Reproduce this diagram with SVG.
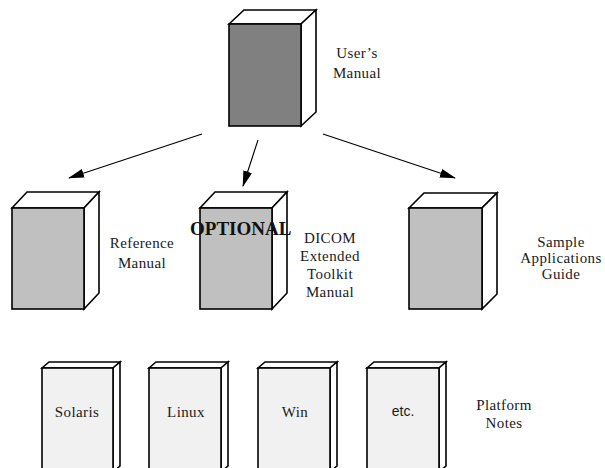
<svg xmlns="http://www.w3.org/2000/svg" width="605" height="468" viewBox="0 0 605 468">
<style>
.f{stroke:#000;stroke-width:1.6;stroke-linejoin:miter}
.side{fill:#fff;stroke:#000;stroke-width:1.6}
.dark{fill:#808080}
.mid{fill:#c0c0c0}
.light{fill:#f1f1f1}
.t{font-family:"Liberation Serif","Times New Roman",serif;font-size:15px;letter-spacing:0.4px;fill:#1a1a1a;text-anchor:middle}
.s{font-family:"Liberation Sans",Arial,sans-serif;font-size:14px;fill:#1a1a1a;text-anchor:middle}
.b{font-family:"Liberation Serif","Times New Roman",serif;font-size:19px;font-weight:bold;fill:#111}
.c{stroke:#000;stroke-width:1.1;fill:none}
</style>
<defs>
<marker id="ah" markerWidth="16" markerHeight="9" refX="15" refY="4.5" orient="auto" markerUnits="userSpaceOnUse">
<path d="M0,0 L16,4.5 L0,9 Z" fill="#000"/>
</marker>
</defs>
<g id="connectors">
<line class="c" x1="202" y1="134" x2="69" y2="178" marker-end="url(#ah)"/>
<line class="c" x1="258" y1="140" x2="243" y2="186" marker-end="url(#ah)"/>
<line class="c" x1="323" y1="134" x2="455" y2="178" marker-end="url(#ah)"/>
</g>
<g id="users-manual">
<polygon class="side" points="229,24 244,10 316,10 301,24"/>
<polygon class="side" points="301,24 316,10 316,112 301,126"/>
<rect class="f dark" x="229" y="24" width="72" height="102"/>
<text class="t" x="357" y="58">User’s</text>
<text class="t" x="357" y="78">Manual</text>
</g>
<g id="reference-manual">
<polygon class="side" points="12,208 27,192 99,192 84,208"/>
<polygon class="side" points="84,208 99,192 99,293 84,309"/>
<rect class="f mid" x="12" y="208" width="72" height="101"/>
<text class="t" x="142" y="248">Reference</text>
<text class="t" x="142" y="268">Manual</text>
</g>
<g id="dicom-manual">
<polygon class="side" points="200,208 215,192 287,192 272,208"/>
<polygon class="side" points="272,208 287,192 287,293 272,309"/>
<rect class="f mid" x="200" y="208" width="72" height="101"/>
<text class="b" x="190" y="235">OPTIONAL</text>
<text class="t" x="330" y="243">DICOM</text>
<text class="t" x="330" y="261">Extended</text>
<text class="t" x="330" y="279">Toolkit</text>
<text class="t" x="330" y="297">Manual</text>
</g>
<g id="sample-guide">
<polygon class="side" points="409,208 424,193 497,193 482,208"/>
<polygon class="side" points="482,208 497,193 497,294 482,309"/>
<rect class="f mid" x="409" y="208" width="73" height="101"/>
<text class="t" x="561" y="247">Sample</text>
<text class="t" x="561" y="263">Applications</text>
<text class="t" x="561" y="279">Guide</text>
</g>
<g id="solaris">
<polygon class="side" points="42,368 49,362 120,362 113,368"/>
<polygon class="side" points="113,368 120,362 120,466 113,472"/>
<rect class="f light" x="42" y="368" width="71" height="104"/>
<text class="t" x="77" y="417">Solaris</text>
</g>
<g id="linux">
<polygon class="side" points="149,368 156,362 228,362 221,368"/>
<polygon class="side" points="221,368 228,362 228,466 221,472"/>
<rect class="f light" x="149" y="368" width="72" height="104"/>
<text class="t" x="186" y="417">Linux</text>
</g>
<g id="win">
<polygon class="side" points="258,368 265,362 337,362 330,368"/>
<polygon class="side" points="330,368 337,362 337,466 330,472"/>
<rect class="f light" x="258" y="368" width="72" height="104"/>
<text class="t" x="295" y="417">Win</text>
</g>
<g id="etc">
<polygon class="side" points="367,368 374,362 446,362 439,368"/>
<polygon class="side" points="439,368 446,362 446,466 439,472"/>
<rect class="f light" x="367" y="368" width="72" height="104"/>
<text class="s" x="403" y="416">etc.</text>
</g>
<g id="platform-notes">
<text class="t" x="504" y="410">Platform</text>
<text class="t" x="504" y="428">Notes</text>
</g>
</svg>
